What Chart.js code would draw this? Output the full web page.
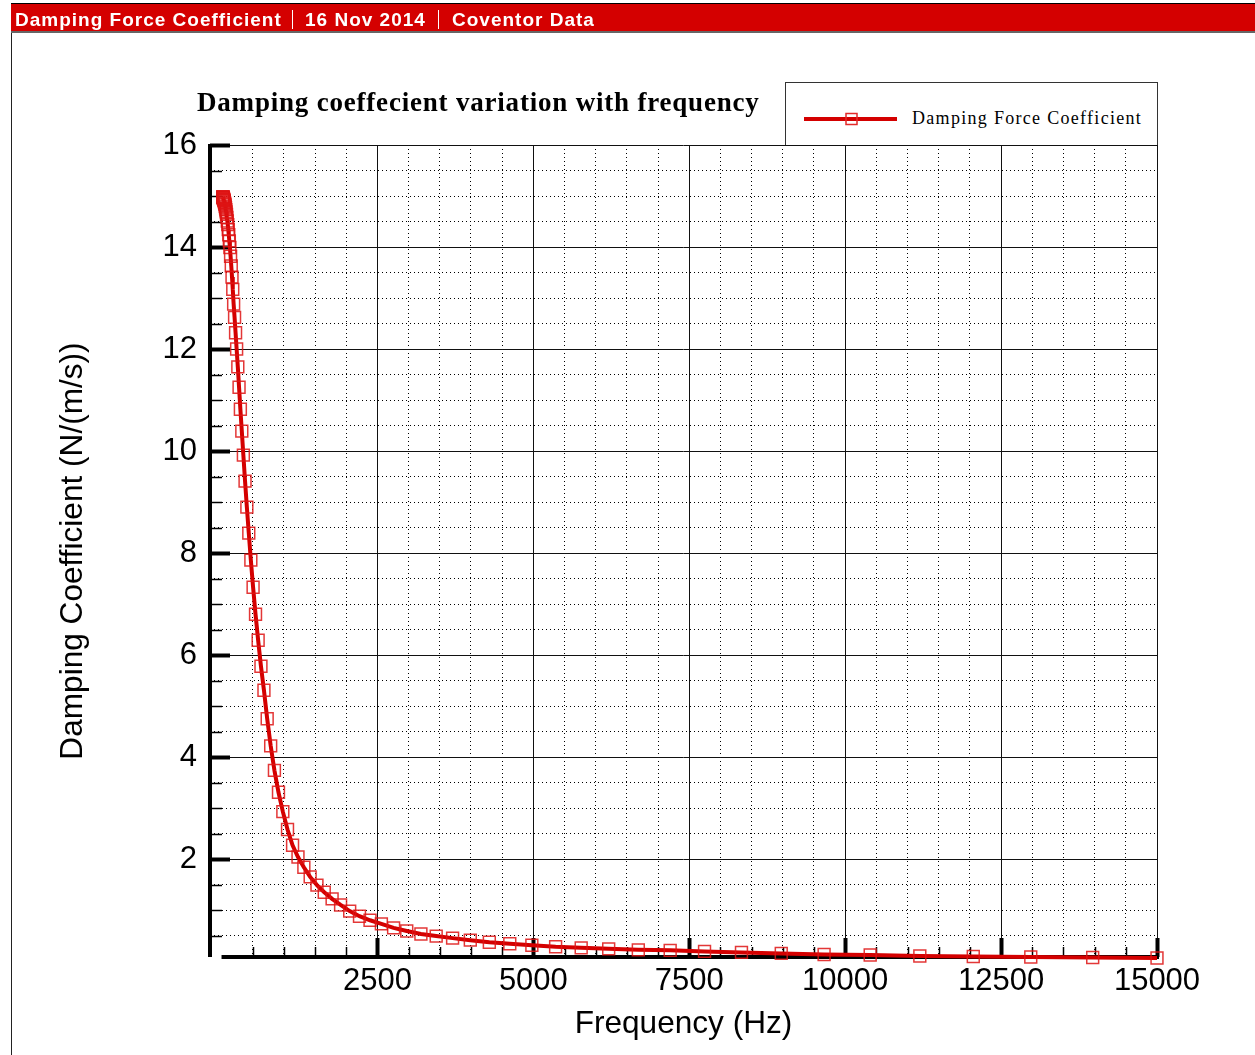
<!DOCTYPE html>
<html>
<head>
<meta charset="utf-8">
<script src="https://cdn.jsdelivr.net/npm/chart.js@4.4.1/dist/chart.umd.min.js"></script>
<style>
  body { margin: 0; background: #fff; }
  #wrap { position: absolute; left: 0; top: 0; width: 1255px; height: 1055px; }
  #frame { position: absolute; left: 11px; top: 3px; width: 1px; height: 1052px; background: #222; }
  #header { position: absolute; left: 11px; top: 3px; width: 1244px; height: 27px; background: #d40000;
            border-top: 1px solid #000; border-bottom: 2px solid #666;
            color: #fff; font: bold 19px "Liberation Sans", Arial, sans-serif; }
  #header span { position: absolute; top: 1px; line-height: 30px; white-space: nowrap; letter-spacing: 1px; }
  #header .sep { width: 1px; height: 19px; background: #fff; position: absolute; top: 6px; }
  #title { position: absolute; left: 197px; top: 87px; font: bold 27px "Liberation Serif", "Times New Roman", serif;
           letter-spacing: 0.8px; color: #000; white-space: nowrap; }
  #legend { position: absolute; left: 785px; top: 82px; width: 371px; height: 62px; border: 1px solid #333;
            border-bottom: none; background: #fff; }
  #legend svg { position: absolute; left: 0; top: 0; }
  #legend span { position: absolute; left: 126px; top: 25px; font: 18px "Liberation Serif", "Times New Roman", serif;
                 letter-spacing: 1.3px; color: #000; white-space: nowrap; }
</style>
</head>
<body>
<div id="wrap"><canvas id="grafico"></canvas></div>
<div id="frame"></div>
<div id="header">
  <span style="left:4px">Damping Force Coefficient</span>
  <div class="sep" style="left:281px"></div>
  <span style="left:294px">16 Nov 2014</span>
  <div class="sep" style="left:427px"></div>
  <span style="left:441px">Coventor Data</span>
</div>
<div id="title">Damping coeffecient variation with frequency</div>
<div id="legend">
  <svg width="120" height="62">
    <line x1="18" y1="36" x2="111" y2="36" stroke="#d40000" stroke-width="4"/>
    <rect x="60" y="30.5" width="11" height="11" fill="none" stroke="#e22a2a" stroke-width="1.5"/>
  </svg>
  <span>Damping Force Coefficient</span>
</div>
<script>
// frequency (Hz) and damping coefficient (N/(m/s))
const freq = [
  20, 22, 23, 25, 27, 29, 31, 33, 36, 38, 41, 44, 48, 51, 55, 60, 64, 69, 74, 80,
  86, 93, 100, 108, 116, 125, 134, 145, 156, 168, 180, 194, 209, 225, 242, 261, 281, 302, 325, 350,
  377, 406, 437, 470, 506, 545, 587, 632, 680, 732, 788, 848, 913, 983, 1058, 1139, 1226, 1320, 1421, 1530,
  1647, 1773, 1909, 2055, 2212, 2381, 2563, 2759, 2970, 3197, 3442, 3705, 3989, 4294, 4622, 4976, 5357, 5767, 6208, 6683,
  7194, 7745, 8337, 8975, 9662, 10401, 11197, 12054, 12976, 13969, 15000
];
const coef = [
  14.98, 14.98, 14.98, 14.97, 14.97, 14.96, 14.95, 14.94, 14.93, 14.92, 14.91, 14.89, 14.87, 14.85, 14.83, 14.80, 14.77, 14.73, 14.69, 14.64,
  14.58, 14.51, 14.44, 14.34, 14.24, 14.12, 13.99, 13.82, 13.63, 13.41, 13.17, 12.88, 12.62, 12.32, 12.00, 11.65, 11.25, 10.82, 10.39, 9.92,
  9.41, 8.90, 8.39, 7.86, 7.33, 6.80, 6.29, 5.78, 5.31, 4.75, 4.22, 3.74, 3.31, 2.93, 2.58, 2.27, 2.04, 1.84, 1.65, 1.49,
  1.35, 1.22, 1.10, 0.98, 0.88, 0.80, 0.73, 0.65, 0.59, 0.53, 0.49, 0.45, 0.41, 0.37, 0.34, 0.31, 0.28, 0.26, 0.24, 0.22,
  0.21, 0.19, 0.17, 0.15, 0.13, 0.12, 0.10, 0.09, 0.08, 0.07, 0.06
];
const xTickLabels = [2500, 5000, 7500, 10000, 12500, 15000];
const yTickLabels = [2, 4, 6, 8, 10, 12, 14, 16];
const xMinorStep = 500;
const yMinorStep = 0.5;

// major + minor tick values (minor every 500 Hz / 0.5 N/(m/s))
function stepTicks(step, last) {
  const out = [];
  for (let v = step; v <= last + 1e-9; v += step) out.push({ value: Math.round(v * 100) / 100 });
  return out;
}

// solid major grid, inward ticks and heavy axes like the original plot
const eixos = {
  id: "eixos",
  beforeDatasetsDraw(chart) {
    const { ctx, chartArea: a, scales: { x, y } } = chart;
    ctx.save();
    ctx.strokeStyle = "#111";
    ctx.lineWidth = 1;
    x.ticks.forEach(t => {
      if (!xTickLabels.includes(t.value)) return;
      const px = Math.round(x.getPixelForValue(t.value)) + 0.5;
      ctx.beginPath(); ctx.moveTo(px, a.top); ctx.lineTo(px, a.bottom); ctx.stroke();
    });
    y.ticks.forEach(t => {
      if (!yTickLabels.includes(t.value)) return;
      const py = Math.round(y.getPixelForValue(t.value)) + 0.5;
      ctx.beginPath(); ctx.moveTo(a.left, py); ctx.lineTo(a.right, py); ctx.stroke();
    });
    ctx.strokeStyle = "#000";
    x.ticks.forEach(t => {
      const major = xTickLabels.includes(t.value);
      const px = Math.round(x.getPixelForValue(t.value)) + 0.5;
      ctx.lineWidth = major ? 4 : 1.5;
      ctx.beginPath(); ctx.moveTo(px, a.bottom); ctx.lineTo(px, a.bottom - (major ? 19 : 10)); ctx.stroke();
    });
    y.ticks.forEach(t => {
      const major = yTickLabels.includes(t.value);
      const py = Math.round(y.getPixelForValue(t.value)) + 0.5;
      ctx.lineWidth = major ? 4 : 1.5;
      ctx.beginPath(); ctx.moveTo(a.left, py); ctx.lineTo(a.left + (major ? 20 : 12), py); ctx.stroke();
    });
    ctx.lineWidth = 4;
    ctx.beginPath(); ctx.moveTo(a.left, a.top - 1); ctx.lineTo(a.left, a.bottom); ctx.stroke();
    ctx.beginPath(); ctx.moveTo(x.getPixelForValue(0), a.bottom); ctx.lineTo(a.right + 2, a.bottom); ctx.stroke();
    ctx.restore();
  }
};

const area = document.getElementById("grafico");
const fonte = { family: "'Liberation Sans', Arial, sans-serif", size: 31, lineHeight: 1.2 };

new Chart(area, {
  type: "scatter",
  data: {
    datasets: [
      {
        label: "Damping Force Coefficient",
        data: freq.map((f, i) => ({ x: f, y: coef[i] })),
        showLine: true,
        borderColor: "#d40000",
        borderWidth: 4,
        pointStyle: "rect",
        pointRadius: 8.4,
        pointHoverRadius: 8.4,
        pointBorderWidth: 1.5,
        pointBorderColor: "rgba(222, 20, 20, 0.85)",
        pointBackgroundColor: "rgba(0,0,0,0)",
        clip: false
      }
    ]
  },
  options: {
    responsive: true,
    maintainAspectRatio: false,
    animation: false,
    layout: { padding: { left: 0, right: 98, top: 145, bottom: 0 } },
    plugins: { legend: { display: false }, title: { display: false }, tooltip: { enabled: false } },
    scales: {
      x: {
        type: "linear",
        min: -185,
        max: 15000,
        afterBuildTicks(scale) { scale.ticks = stepTicks(xMinorStep, 15000); },
        afterFit(scale) { scale.height = 98; },
        border: { display: false, dash: [1, 3] },
        grid: { drawTicks: false, lineWidth: 1, color: "#000" },
        ticks: {
          autoSkip: false,
          maxRotation: 0,
          padding: 6,
          color: "#000",
          font: fonte,
          callback: v => (xTickLabels.includes(v) ? String(v) : "")
        },
        title: {
          display: true,
          text: "Frequency (Hz)",
          color: "#000",
          padding: { top: 0, bottom: 12 },
          font: { family: "'Liberation Sans', Arial, sans-serif", size: 31.6, lineHeight: 1.2 }
        }
      },
      y: {
        min: 0.08,
        max: 16,
        afterBuildTicks(scale) { scale.ticks = stepTicks(yMinorStep, 16); },
        afterFit(scale) { scale.width = 210; },
        border: { display: false, dash: [1, 3] },
        grid: { drawTicks: false, lineWidth: 1, color: "#000" },
        ticks: {
          autoSkip: false,
          padding: 13,
          color: "#000",
          font: fonte,
          callback: v => (yTickLabels.includes(v) ? String(v) : "")
        },
        title: {
          display: true,
          text: "Damping Coefficient (N/(m/s))",
          color: "#000",
          padding: { top: 54, bottom: 0 },
          font: { family: "'Liberation Sans', Arial, sans-serif", size: 31.6, lineHeight: 1.2 }
        }
      }
    }
  },
  plugins: [eixos]
});
</script>
</body>
</html>
